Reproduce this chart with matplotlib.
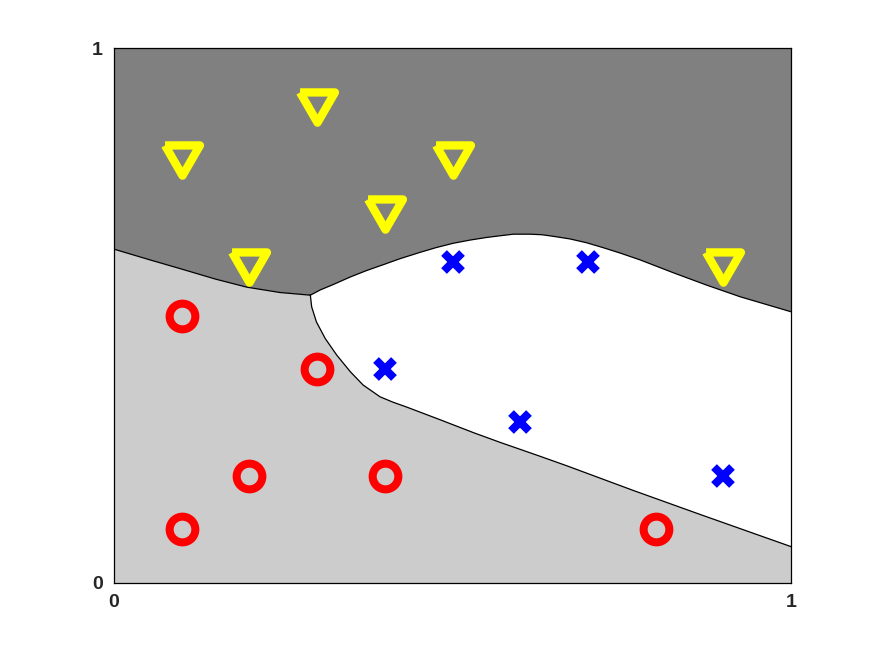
import numpy as np
import matplotlib
matplotlib.use("Agg")
import matplotlib.pyplot as plt
from matplotlib.markers import MarkerStyle

# puntos de cada clase
circ_x = [0.1, 0.3, 0.2, 0.4, 0.1, 0.8]
circ_y = [0.5, 0.4, 0.2, 0.2, 0.1, 0.1]

cruz_x = [0.5, 0.7, 0.4, 0.6, 0.9]
cruz_y = [0.6, 0.6, 0.4, 0.3, 0.2]

tri_x = [0.1, 0.3, 0.5, 0.4, 0.2, 0.9]
tri_y = [0.8, 0.9, 0.8, 0.7, 0.6, 0.6]

# fronteras de decision
fa_x = [0.0, 0.053, 0.102, 0.150, 0.196, 0.245, 0.290]
fa_y = [0.624, 0.604, 0.586, 0.568, 0.553, 0.543, 0.538]

fb_x = [0.290, 0.305, 0.324, 0.349, 0.373, 0.400, 0.422, 0.452, 0.476,
        0.501, 0.526, 0.551, 0.570, 0.590, 0.614, 0.632, 0.649, 0.674,
        0.698, 0.722, 0.747, 0.777, 0.826, 0.875, 0.925, 1.0]
fb_y = [0.538, 0.548, 0.558, 0.572, 0.584, 0.596, 0.606, 0.618, 0.627,
        0.635, 0.641, 0.646, 0.649, 0.652, 0.652, 0.651, 0.648, 0.643,
        0.636, 0.627, 0.617, 0.604, 0.580, 0.557, 0.535, 0.507]

fc_x = [0.290, 0.292, 0.299, 0.312, 0.329, 0.349, 0.368, 0.393, 0.412,
        0.432, 0.482, 0.531, 0.570, 0.629, 0.669, 0.767, 0.866, 1.0]
fc_y = [0.538, 0.516, 0.488, 0.457, 0.426, 0.395, 0.370, 0.348, 0.338,
        0.329, 0.305, 0.281, 0.263, 0.237, 0.219, 0.173, 0.128, 0.068]

fig = plt.figure(figsize=(8.75, 6.56), dpi=100)
ax = fig.add_axes([0.1303, 0.1113, 0.7737, 0.8155])
ax.set_facecolor("white")

# region oscura (arriba)
dx = [0, 1, 1] + fb_x[::-1] + fa_x[::-1]
dy = [1, 1, fb_y[-1]] + fb_y[::-1] + fa_y[::-1]
ax.fill(dx, dy, color="#808080", lw=0, zorder=1)

# region clara (abajo izquierda)
lx = [0, 1, 1] + fc_x[::-1] + fa_x[::-1]
ly = [0, 0, fc_y[-1]] + fc_y[::-1] + fa_y[::-1]
ax.fill(lx, ly, color="#cccccc", lw=0, zorder=1)

for fx, fy in [(fa_x, fa_y), (fb_x, fb_y), (fc_x, fc_y)]:
    ax.plot(fx, fy, color="black", lw=0.9, zorder=2, solid_joinstyle="round")

# triangulo equilatero centrado en su centroide, como en MATLAB
r3 = np.sqrt(3)
tri = MarkerStyle([(-1, 1 / r3), (1, 1 / r3), (0, -2 / r3), (-1, 1 / r3)],
                  joinstyle="miter")

ax.plot(circ_x, circ_y, "o", ms=18.5, mfc="none", mec="#ff0000", mew=5.8, zorder=3)
ax.plot(cruz_x, cruz_y, "x", ms=13, mec="#0000ff", mew=5.8, zorder=3)
ax.plot(tri_x, tri_y, marker=tri, ls="none", ms=29, mfc="none", mec="#ffff00",
        mew=6, zorder=3)

ax.set_xlim(0, 1)
ax.set_ylim(0, 1)
ax.set_xticks([0, 1])
ax.set_yticks([0, 1])
ax.set_xticklabels(["0", "1"], fontsize=14, fontweight="bold",
                   family=["Liberation Sans", "DejaVu Sans"])
ax.set_yticklabels(["0", "1"], fontsize=14, fontweight="bold",
                   family=["Liberation Sans", "DejaVu Sans"])
ax.tick_params(length=0, pad=8, colors="#262626")
for s in ax.spines.values():
    s.set_linewidth(0.9)
    s.set_color("black")
    s.set_zorder(4)

fig.savefig("out.png", dpi=100)
